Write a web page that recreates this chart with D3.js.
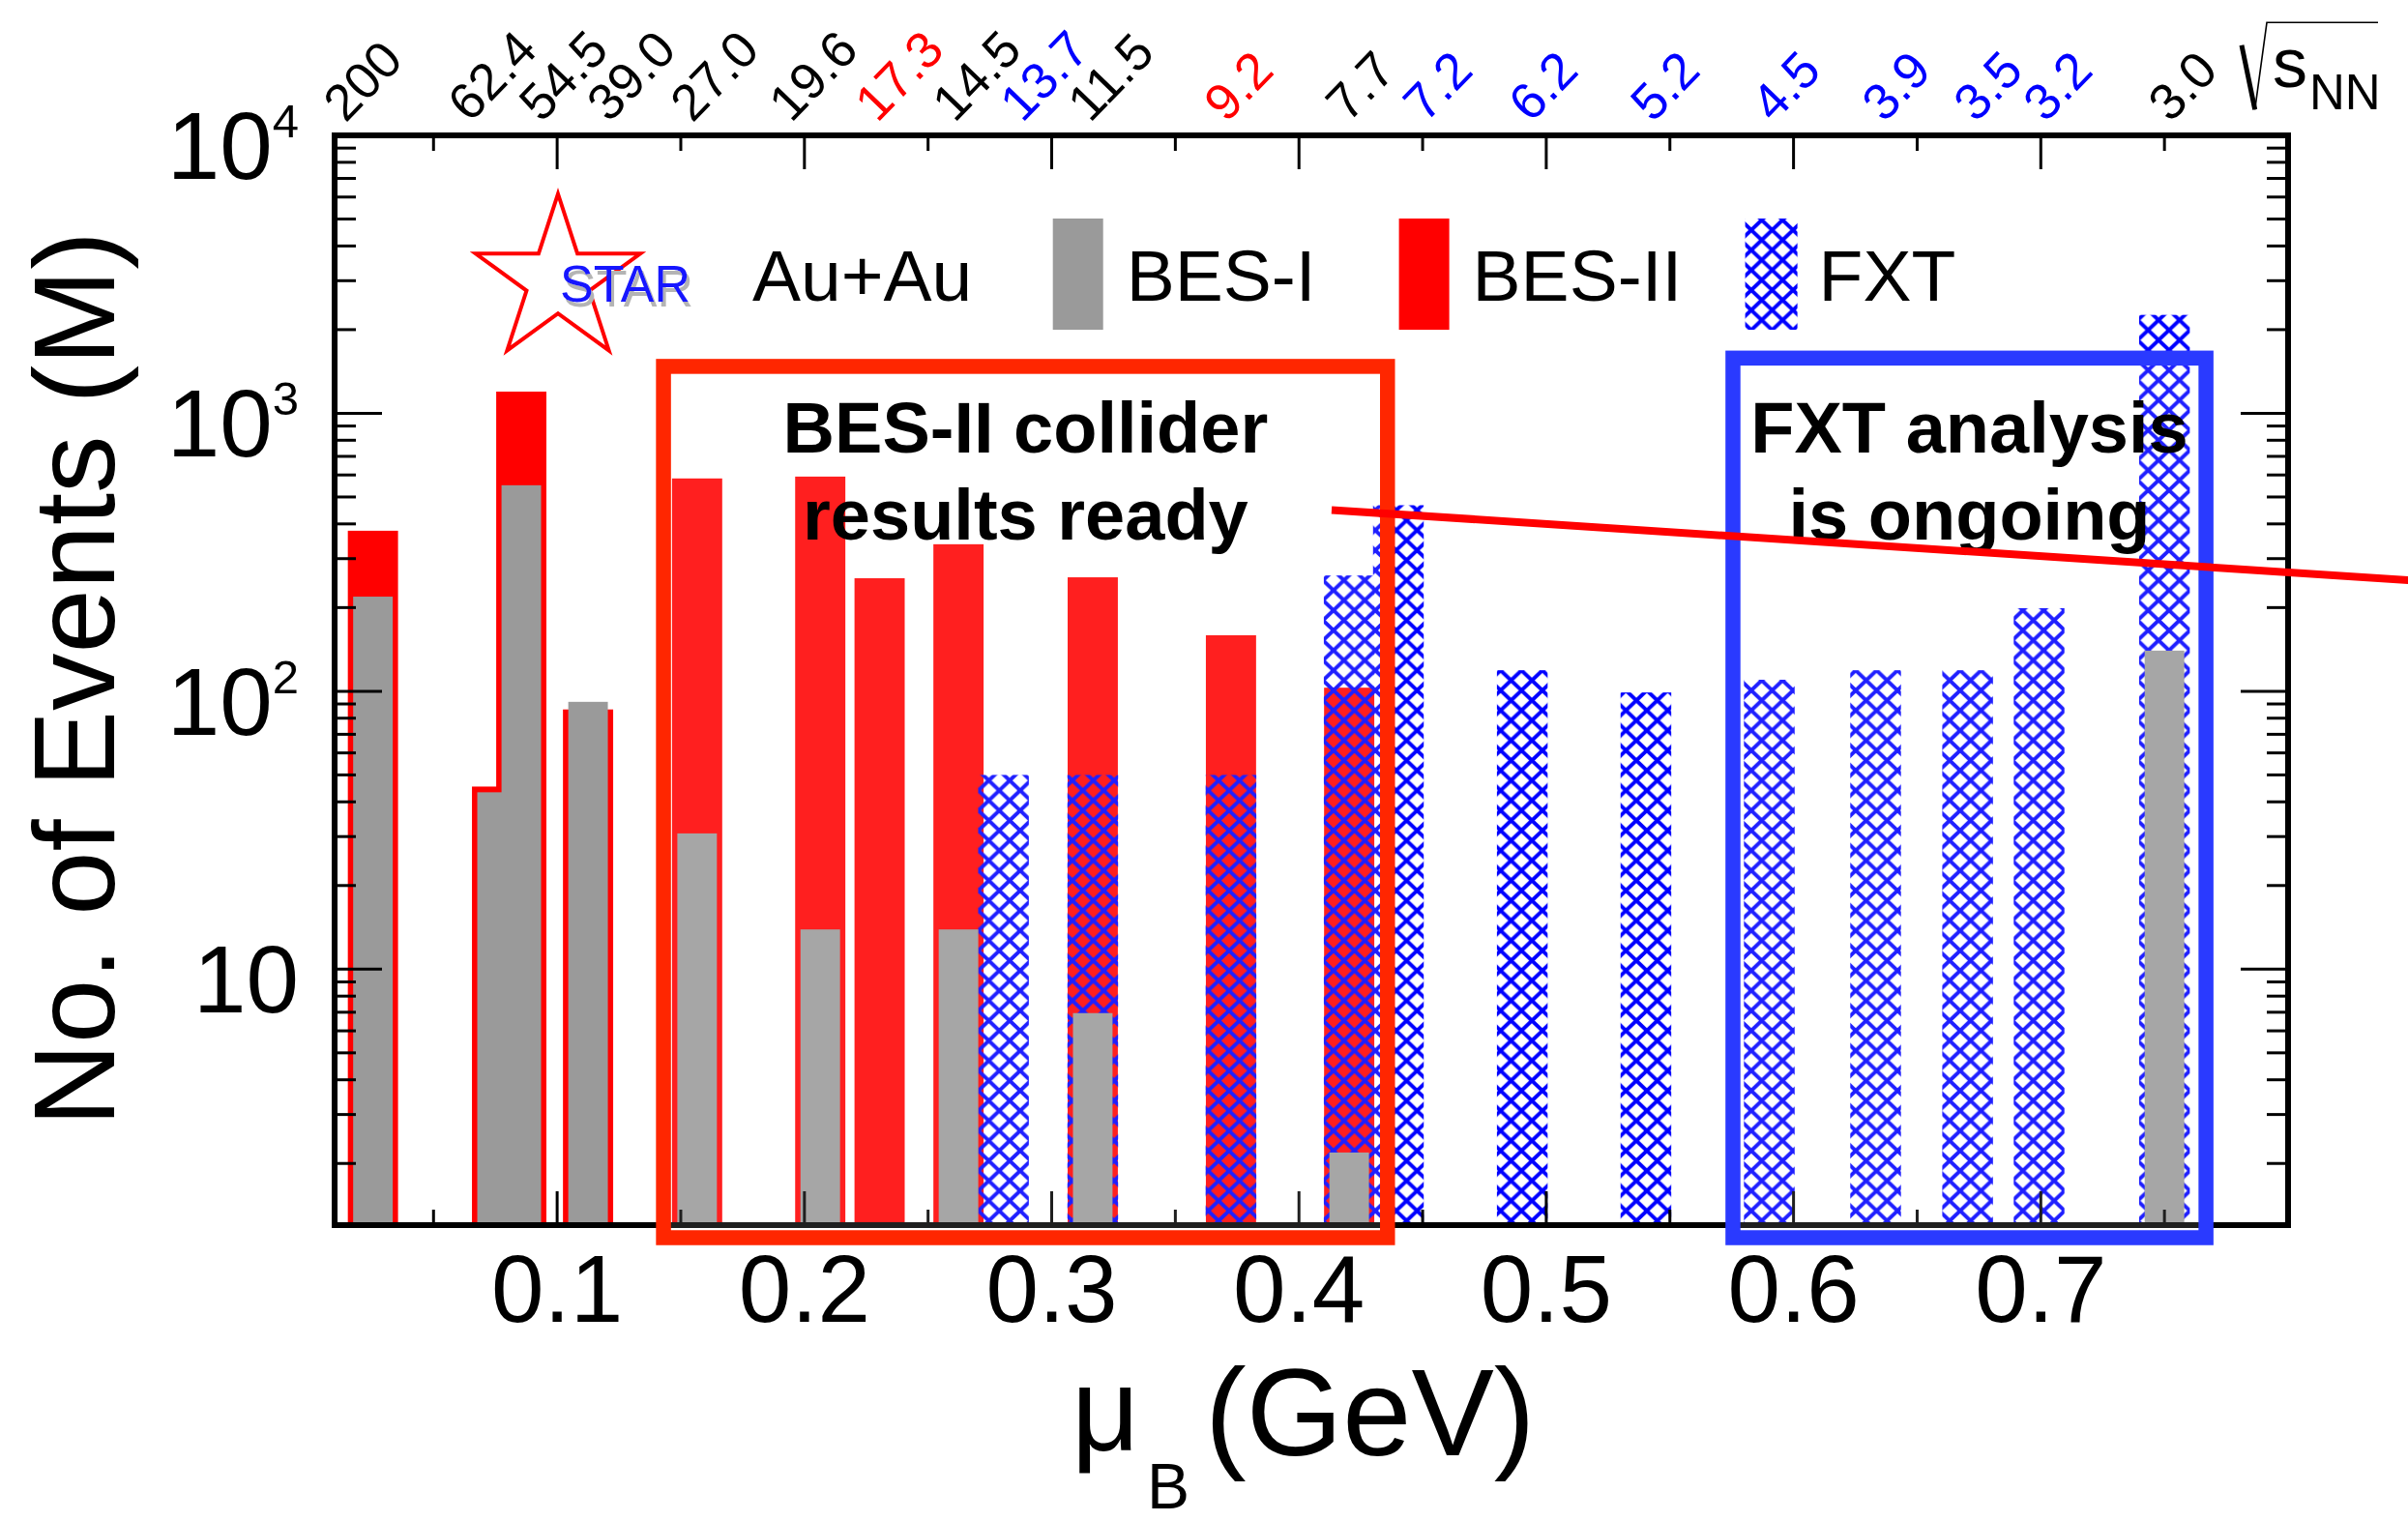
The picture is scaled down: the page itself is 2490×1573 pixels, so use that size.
<!DOCTYPE html>
<html><head><meta charset="utf-8">
<script src="https://cdn.jsdelivr.net/npm/d3@7"></script>
<style>
html,body{margin:0;padding:0;background:#fff;}
svg{display:block;}
text{font-family:"Liberation Sans",Arial,Helvetica,sans-serif;}
</style></head><body>
<svg id="chart" width="2490" height="1573"></svg>
<script>
// ---------------- data ----------------
// BES-II collider (red) bars
const besIIMuB    = [0.0255, 0.0757, 0.0855, 0.1125, 0.1566, 0.2064, 0.2304, 0.2623, 0.3166, 0.3725, 0.4203];
const besIIEvents = [378, 45.4, 1197, 86, 583, 592, 255, 338, 257, 159, 103];
// BES-I (gray) bars
const besIMuB     = [0.0255, 0.0757, 0.0855, 0.1125, 0.1566, 0.2064, 0.2623, 0.3166, 0.4203, 0.7500];
const besIEvents  = [219, 43.3, 551, 91.6, 30.8, 13.9, 13.9, 6.95, 2.19, 140];
// FXT (hatched) bars
const fxtMuB      = [0.2805, 0.3166, 0.3725, 0.4203, 0.4402, 0.4903, 0.5403, 0.5902, 0.6332, 0.6704, 0.6993, 0.7500];
const fxtEvents   = [50, 50, 50, 261, 467, 119, 99, 110, 119, 119, 199, 2260];
// top sqrt(sNN) labels
const topLabels     = ["200","62.4","54.5","39.0","27.0","19.6","17.3","14.5","13.7","11.5","9.2","7.7","7.2","6.2","5.2","4.5","3.9","3.5","3.2","3.0"];
const topLabelMuB   = [0.0089,0.0593,0.0881,0.1155,0.1492,0.1891,0.2239,0.2552,0.2826,0.3100,0.3651,0.4144,0.4457,0.4883,0.5376,0.5865,0.6311,0.6682,0.6964,0.7469];
const topLabelGroup = ["c","c","c","c","c","c","r","c","f","c","r","c","f","f","f","f","f","f","f","c"];
// axes
const xTickValues = [0.1, 0.2, 0.3, 0.4, 0.5, 0.6, 0.7];
const xTickLabels = ["0.1","0.2","0.3","0.4","0.5","0.6","0.7"];
const yTickValues = [10, 100, 1000, 10000];
const yTickBase   = ["10","10","10","10"];
const yTickExp    = ["","2","3","4"];
const legendLabels = ["BES-I","BES-II","FXT"];

// ---------------- layout ----------------
const svg = d3.select("#chart");
const L = 346, R = 2366, T = 140, B = 1267;
const x = d3.scaleLinear().domain([0.01, 0.8]).range([L, R]);
const y = d3.scaleLog().domain([1.2, 1e4]).range([B, T]);
const redW = 0.0203, grayW = 0.016, fxtW = 0.0205;
const RED = "#ff0000", GRAY = "#9a9a9a", BLUE = "#0000ff";

svg.append("rect").attr("width",2490).attr("height",1573).attr("fill","#fff");

const defs = svg.append("defs");
const pw = 21.6, ph = 20.7;
const pat = defs.append("pattern").attr("id","hatch").attr("patternUnits","userSpaceOnUse")
  .attr("x",1551.7).attr("y",693.3).attr("width",pw).attr("height",ph);
pat.append("path").attr("d",`M0,0L${pw},${ph}M${pw},0L0,${ph}`)
  .attr("stroke",BLUE).attr("stroke-width",3.9).attr("fill","none");
const shadow = defs.append("filter").attr("id","shadow").attr("x","-10%").attr("y","-20%").attr("width","130%").attr("height","150%");
shadow.append("feOffset").attr("in","SourceAlpha").attr("dx",3).attr("dy",5).attr("result","off");
shadow.append("feFlood").attr("flood-color","#b4b4b4").attr("result","col");
shadow.append("feComposite").attr("in","col").attr("in2","off").attr("operator","in").attr("result","sh");
const mg = shadow.append("feMerge");
mg.append("feMergeNode").attr("in","sh");
mg.append("feMergeNode").attr("in","SourceGraphic");

const bw = w => (mu) => x(mu + w/2) - x(mu - w/2);

// red bars
svg.append("g").selectAll("rect").data(d3.zip(besIIMuB, besIIEvents)).join("rect")
  .attr("x", d => x(d[0] - redW/2)).attr("width", d => bw(redW)(d[0]))
  .attr("y", d => y(d[1])).attr("height", d => B - y(d[1])).attr("fill", RED);
// hatched FXT bars
svg.append("g").selectAll("rect").data(d3.zip(fxtMuB, fxtEvents)).join("rect")
  .attr("x", d => x(d[0] - fxtW/2)).attr("width", d => bw(fxtW)(d[0]))
  .attr("y", d => y(d[1])).attr("height", d => B - y(d[1])).attr("fill", "url(#hatch)");
// gray bars
svg.append("g").selectAll("rect").data(d3.zip(besIMuB, besIEvents)).join("rect")
  .attr("x", d => x(d[0] - grayW/2)).attr("width", d => bw(grayW)(d[0]))
  .attr("y", d => y(d[1])).attr("height", d => B - y(d[1])).attr("fill", GRAY);

// frame
const frame = svg.append("g").attr("stroke","#000");
frame.append("rect").attr("x",L).attr("y",T).attr("width",R-L).attr("height",B-T)
  .attr("fill","none").attr("stroke-width",6);
// y ticks
const yMinor = [];
for (let k = 0; k <= 3; k++) for (let m = 1; m <= 9; m++) { const v = m * Math.pow(10,k); if (v >= 1.2) yMinor.push(v); }
yMinor.push(1e4);
yMinor.forEach(v => {
  const major = Math.abs(Math.log10(v) - Math.round(Math.log10(v))) < 1e-9;
  const len = major ? 49 : 22;
  frame.append("line").attr("x1",L).attr("x2",L+len).attr("y1",y(v)).attr("y2",y(v)).attr("stroke-width",3);
  frame.append("line").attr("x1",R).attr("x2",R-len).attr("y1",y(v)).attr("y2",y(v)).attr("stroke-width",3);
});
// x ticks
d3.range(1, 16).map(i => i*0.05).forEach((v,i) => {
  const major = (i % 2) === 1;
  const len = major ? 35 : 16;
  frame.append("line").attr("x1",x(v)).attr("x2",x(v)).attr("y1",T).attr("y2",T+len).attr("stroke-width",3);
  frame.append("line").attr("x1",x(v)).attr("x2",x(v)).attr("y1",B).attr("y2",B-len).attr("stroke-width",3);
});

// annotation boxes (semi-transparent white fill)
const boxes = [
  {x0:0.1430, x1:0.4358, top:1475, color:"#ff2600", l1:"BES-II collider", l2:"results ready"},
  {x0:0.5755, x1:0.7668, top:1580, color:"#2a3aff", l1:"FXT analysis",  l2:"is ongoing"}
];
const boxBottom = 1280;
boxes.forEach(b => {
  svg.append("rect").attr("x",x(b.x0)).attr("y",y(b.top)).attr("width",x(b.x1)-x(b.x0))
    .attr("height",boxBottom - y(b.top)).attr("fill","#fff").attr("fill-opacity",0.12)
    .attr("stroke",b.color).attr("stroke-width",15.5);
  const cx = (x(b.x0)+x(b.x1))/2;
  svg.append("text").attr("x",cx).attr("y",468).attr("text-anchor","middle")
    .attr("font-size",74).attr("font-weight","bold").text(b.l1);
  svg.append("text").attr("x",cx).attr("y",558).attr("text-anchor","middle")
    .attr("font-size",74).attr("font-weight","bold").text(b.l2);
});

// legend
const lg = svg.append("g");
const sc = [577, 290], sR = 89.5, sr = sR*0.382;
const pts = d3.range(10).map(i => {
  const a = -Math.PI/2 + i*Math.PI/5, rr = i%2 ? sr : sR;
  return [sc[0] + rr*Math.cos(a), sc[1] + rr*Math.sin(a)];
});
lg.append("path").attr("d","M"+pts.map(p=>p.join(",")).join("L")+"Z")
  .attr("fill","#fff").attr("stroke",RED).attr("stroke-width",4);
lg.append("text").attr("x",579).attr("y",312).attr("font-size",54).attr("textLength",135)
  .attr("lengthAdjust","spacingAndGlyphs").attr("fill","#1414ff").attr("filter","url(#shadow)").text("STAR");
lg.append("text").attr("x",778).attr("y",311).attr("font-size",75).text("Au+Au");
const swX = [1088.7, 1446.6, 1804.6];
const swFill = [GRAY, RED, "url(#hatch)"];
legendLabels.forEach((lab,i) => {
  lg.append("rect").attr("x",swX[i]).attr("y",226).attr("width",i==2?54:52).attr("height",115).attr("fill",swFill[i]);
  lg.append("text").attr("x",swX[i]+76).attr("y",311).attr("font-size",75).text(lab);
});

// red guide line
const lineEnds = [[0.4132, 449],[0.8486, 251]];
svg.append("line").attr("x1",x(lineEnds[0][0])).attr("y1",y(lineEnds[0][1]))
  .attr("x2",x(lineEnds[1][0])).attr("y2",y(lineEnds[1][1]))
  .attr("stroke",RED).attr("stroke-width",8);

// top labels
const groupColor = {c:"#000", r:"#ff0000", f:"#0000ff"};
topLabels.forEach((lab,i) => {
  svg.append("text").attr("transform",`translate(${x(topLabelMuB[i]) + 14},128) rotate(-46)`)
    .attr("font-size",53).attr("fill",groupColor[topLabelGroup[i]]).text(lab);
});
// sqrt(sNN)
svg.append("path").attr("d","M2318,46.7L2331.7,113.3").attr("stroke","#000").attr("stroke-width",5).attr("fill","none");
svg.append("path").attr("d","M2331.7,113.3L2344,23.3L2459,23.3").attr("stroke","#000").attr("stroke-width",1.6).attr("fill","none");
svg.append("text").attr("x",2350).attr("y",90).attr("font-size",72).text("s");
svg.append("text").attr("x",2388).attr("y",113).attr("font-size",51).text("NN");

// x tick labels
xTickValues.forEach((v,i) => {
  svg.append("text").attr("x",x(v)).attr("y",1367).attr("text-anchor","middle").attr("font-size",98).text(xTickLabels[i]);
});
// y tick labels
yTickValues.forEach((v,i) => {
  const t = svg.append("text").attr("x",309).attr("y",y(v)+45).attr("text-anchor","end").attr("font-size",98).text(yTickBase[i]);
  if (yTickExp[i]) t.append("tspan").attr("font-size",49).attr("dy",-43).text(yTickExp[i]);
});
// axis titles
svg.append("text").attr("x",1108).attr("y",1500).attr("font-size",122).text("\u03bc");
svg.append("text").attr("x",1186).attr("y",1560).attr("font-size",66).text("B");
svg.append("text").attr("x",1246).attr("y",1505).attr("font-size",128).text("(GeV)");
svg.append("text").attr("transform","translate(118,702) rotate(-90)").attr("text-anchor","middle")
  .attr("font-size",119).text("No. of Events (M)");
</script></body></html>
